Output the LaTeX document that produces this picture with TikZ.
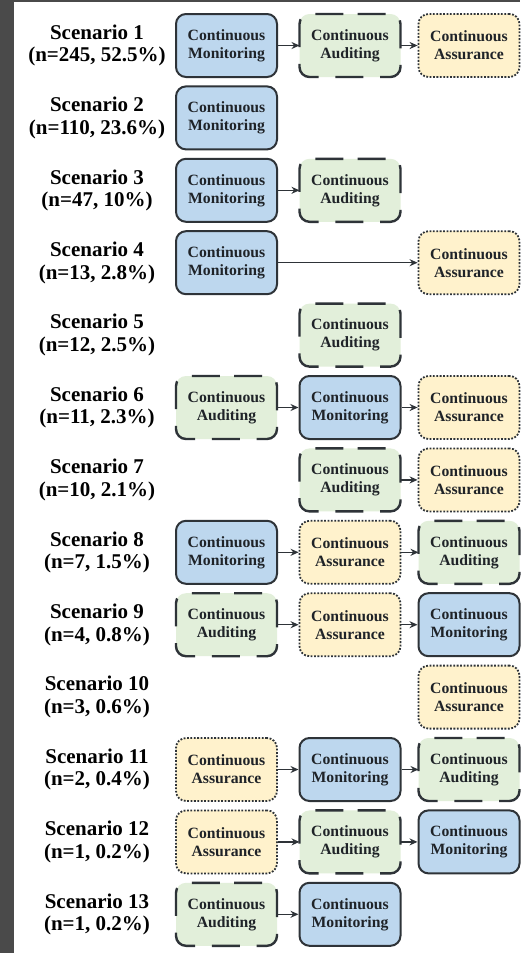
\documentclass[tikz,border=0pt]{standalone}
\usepackage{fontspec}
\setmainfont{Liberation Serif}
\usetikzlibrary{arrows.meta}
\definecolor{cmfill}{HTML}{BDD7EE}
\definecolor{cafill}{HTML}{E2EFDA}
\definecolor{casfill}{HTML}{FFF2CC}
\definecolor{bord}{HTML}{2E3338}
\definecolor{frame}{HTML}{4A4A4A}
\definecolor{txt}{HTML}{1F2328}
\tikzset{
  boxbase/.style={minimum width=101pt, minimum height=63pt, inner sep=0pt, rounded corners=10pt, align=center, text=txt,
    font=\fontsize{15.7}{18}\selectfont\bfseries},
  cmbox/.style={boxbase, fill=cmfill, draw=bord, line width=2pt},
  cabox/.style={boxbase, fill=cafill, outer sep=0pt},
  caline/.style={draw=bord, line width=2.4pt, rounded corners=10pt, dash pattern=on 28pt off 16.7pt, dash phase=37pt},
  casbox/.style={boxbase, fill=casfill, draw=bord, line width=1.8pt, dash pattern=on 1.8pt off 1.6pt},
  lbl/.style={align=center, inner sep=0pt, text=black, font=\fontsize{21}{22.5}\selectfont\bfseries},
  arr/.style={draw=bord, line width=1.3pt, -{Stealth[length=8pt,width=7pt]}}
}
\newcommand{\caedge}[1]{\draw[caline] (#1.north) -| (#1.east) |- (#1.south) -| (#1.west) |- (#1.north);}
\begin{document}
\begin{tikzpicture}[x=1pt,y=-1pt]
\useasboundingbox (0,0) rectangle (520,953);
\fill[white] (0,0) rectangle (520,953);
\fill[frame] (0,0) rectangle (14,953);
\fill[frame] (0,0) rectangle (520,2);
\def\ca{226.5}\def\cb{350}\def\cc{469}
% Row 1
\node[lbl] (l1) at (97,45.5) {Scenario 1\\(n=245, 52.5\%)};
\node[cmbox] (r1a) at (\ca,45.5) {Continuous\\Monitoring};
\node[cabox] (r1b) at (\cb,45.5) {Continuous\\Auditing}; \caedge{r1b}
\node[casbox] (r1c) at (\cc,45.5) {Continuous\\Assurance};
\draw[arr] (r1a) -- (r1b);
\draw[arr] (r1b) -- (r1c);
% Row 2
\node[lbl] (l2) at (97,117.9) {Scenario 2\\(n=110, 23.6\%)};
\node[cmbox] (r2a) at (\ca,117.9) {Continuous\\Monitoring};
% Row 3
\node[lbl] (l3) at (97,190.3) {Scenario 3\\(n=47, 10\%)};
\node[cmbox] (r3a) at (\ca,190.3) {Continuous\\Monitoring};
\node[cabox] (r3b) at (\cb,190.3) {Continuous\\Auditing}; \caedge{r3b}
\draw[arr] (r3a) -- (r3b);
% Row 4
\node[lbl] (l4) at (97,262.7) {Scenario 4\\(n=13, 2.8\%)};
\node[cmbox] (r4a) at (\ca,262.7) {Continuous\\Monitoring};
\node[casbox] (r4c) at (\cc,262.7) {Continuous\\Assurance};
\draw[arr] (r4a) -- (r4c);
% Row 5
\node[lbl] (l5) at (97,335.1) {Scenario 5\\(n=12, 2.5\%)};
\node[cabox] (r5b) at (\cb,335.1) {Continuous\\Auditing}; \caedge{r5b}
% Row 6
\node[lbl] (l6) at (97,407.5) {Scenario 6\\(n=11, 2.3\%)};
\node[cabox] (r6a) at (\ca,407.5) {Continuous\\Auditing}; \caedge{r6a}
\node[cmbox] (r6b) at (\cb,407.5) {Continuous\\Monitoring};
\node[casbox] (r6c) at (\cc,407.5) {Continuous\\Assurance};
\draw[arr] (r6a) -- (r6b);
\draw[arr] (r6b) -- (r6c);
% Row 7
\node[lbl] (l7) at (97,479.9) {Scenario 7\\(n=10, 2.1\%)};
\node[cabox] (r7b) at (\cb,479.9) {Continuous\\Auditing}; \caedge{r7b}
\node[casbox] (r7c) at (\cc,479.9) {Continuous\\Assurance};
\draw[arr] (r7b) -- (r7c);
% Row 8
\node[lbl] (l8) at (97,552.3) {Scenario 8\\(n=7, 1.5\%)};
\node[cmbox] (r8a) at (\ca,552.3) {Continuous\\Monitoring};
\node[casbox] (r8b) at (\cb,552.3) {Continuous\\Assurance};
\node[cabox] (r8c) at (\cc,552.3) {Continuous\\Auditing}; \caedge{r8c}
\draw[arr] (r8a) -- (r8b);
\draw[arr] (r8b) -- (r8c);
% Row 9
\node[lbl] (l9) at (97,624.7) {Scenario 9\\(n=4, 0.8\%)};
\node[cabox] (r9a) at (\ca,624.7) {Continuous\\Auditing}; \caedge{r9a}
\node[casbox] (r9b) at (\cb,624.7) {Continuous\\Assurance};
\node[cmbox] (r9c) at (\cc,624.7) {Continuous\\Monitoring};
\draw[arr] (r9a) -- (r9b);
\draw[arr] (r9b) -- (r9c);
% Row 10
\node[lbl] (l10) at (97,697.1) {Scenario 10\\(n=3, 0.6\%)};
\node[casbox] (r10c) at (\cc,697.1) {Continuous\\Assurance};
% Row 11
\node[lbl] (l11) at (97,769.5) {Scenario 11\\(n=2, 0.4\%)};
\node[casbox] (r11a) at (\ca,769.5) {Continuous\\Assurance};
\node[cmbox] (r11b) at (\cb,769.5) {Continuous\\Monitoring};
\node[cabox] (r11c) at (\cc,769.5) {Continuous\\Auditing}; \caedge{r11c}
\draw[arr] (r11a) -- (r11b);
\draw[arr] (r11b) -- (r11c);
% Row 12
\node[lbl] (l12) at (97,841.9) {Scenario 12\\(n=1, 0.2\%)};
\node[casbox] (r12a) at (\ca,841.9) {Continuous\\Assurance};
\node[cabox] (r12b) at (\cb,841.9) {Continuous\\Auditing}; \caedge{r12b}
\node[cmbox] (r12c) at (\cc,841.9) {Continuous\\Monitoring};
\draw[arr] (r12a) -- (r12b);
\draw[arr] (r12b) -- (r12c);
% Row 13
\node[lbl] (l13) at (97,914.3) {Scenario 13\\(n=1, 0.2\%)};
\node[cabox] (r13a) at (\ca,914.3) {Continuous\\Auditing}; \caedge{r13a}
\node[cmbox] (r13b) at (\cb,914.3) {Continuous\\Monitoring};
\draw[arr] (r13a) -- (r13b);
\end{tikzpicture}
\end{document}
